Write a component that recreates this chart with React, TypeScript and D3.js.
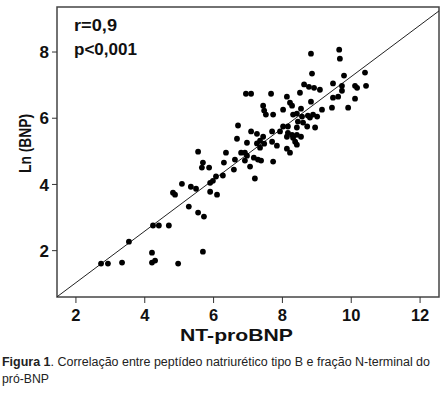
import * as d3 from 'd3';

// NT-proBNP (x) and Ln(BNP) (y)
const ntProBnp = [
  8.83, 9.65, 9.67, 8.86, 10.40, 9.79, 6.94, 7.09, 7.67, 8.13,
  8.63, 8.77, 8.92, 9.09, 9.47, 9.73, 9.73, 10.11, 10.17, 10.43,
  8.51, 8.83, 9.47, 9.62, 10.11, 7.44, 8.22, 8.28, 8.02, 8.54,
  9.15, 9.44, 9.91, 7.47, 7.52, 7.73, 8.42, 8.31, 8.57, 8.74,
  8.89, 8.80, 9.01, 8.45, 8.60, 6.71, 7.09, 7.26, 7.70, 8.02,
  8.16, 8.42, 8.72, 8.95, 7.93, 8.16, 8.28, 8.13, 8.31, 8.42,
  8.54, 7.44, 6.68, 6.97, 7.35, 7.47, 7.70, 8.37, 8.42, 7.84,
  8.13, 8.22, 7.35, 6.36, 6.80, 6.91, 6.97, 7.17, 7.29, 7.38,
  6.62, 6.30, 6.91, 7.73, 6.59, 7.06, 7.20, 5.55, 5.69, 5.66,
  5.87, 6.27, 6.07, 5.98, 5.90, 5.08, 5.34, 5.49, 4.82, 4.88,
  5.90, 6.10, 5.28, 5.55, 5.72, 4.24, 4.41, 4.70, 3.54, 4.21,
  5.69, 2.73, 2.93, 3.34, 4.21, 4.30, 4.97, 7.26,
];
const lnBnp = [
  7.95, 8.07, 7.80, 7.35, 7.38, 7.29, 6.74, 6.74, 6.74, 6.65,
  7.02, 6.95, 6.92, 6.86, 7.05, 6.98, 6.83, 6.98, 6.92, 6.98,
  6.77, 6.50, 6.62, 6.65, 6.59, 6.38, 6.47, 6.38, 6.26, 6.29,
  6.26, 6.32, 6.32, 6.23, 6.11, 6.11, 6.14, 6.11, 6.05, 6.08,
  6.11, 6.02, 6.05, 5.90, 5.87, 5.78, 5.60, 5.53, 5.60, 5.75,
  5.75, 5.72, 5.75, 5.72, 5.60, 5.56, 5.50, 5.44, 5.41, 5.50,
  5.44, 5.44, 5.38, 5.26, 5.32, 5.23, 5.29, 5.29, 5.20, 5.17,
  5.08, 4.96, 5.11, 4.96, 4.96, 4.96, 4.87, 4.81, 4.75, 4.72,
  4.75, 4.66, 4.72, 4.69, 4.45, 4.54, 4.18, 4.99, 4.66, 4.51,
  4.51, 4.27, 4.24, 4.11, 4.05, 4.02, 3.93, 3.87, 3.75, 3.69,
  3.78, 3.69, 3.33, 3.15, 3.03, 2.76, 2.76, 2.76, 2.27, 1.94,
  1.97, 1.61, 1.61, 1.64, 1.64, 1.70, 1.61, 5.24,
];

const xTicks = [2, 4, 6, 8, 10, 12];
const yTicks = [2, 4, 6, 8];

// fitted line
const slope = 0.778;
const intercept = -0.522;

const statsLines = ['r=0,9', 'p<0,001'];
const xTitle = 'NT-proBNP';
const yTitle = 'Ln (BNP)';

const font = '"Liberation Sans", Arial, sans-serif';

export default function App() {
  const width = 446;
  const height = 393;
  const box = { left: 57, right: 439, top: 7, bottom: 297 };

  const x = d3.scaleLinear().domain([1.45, 12.55]).range([box.left, box.right]);
  const y = d3.scaleLinear().domain([0.6, 9.36]).range([box.bottom, box.top]);

  const points = ntProBnp.map((v, i) => [v, lnBnp[i]] as [number, number]);

  const [x0, x1] = x.domain();
  const fitLine = d3.line<number>()
    .x(d => x(d))
    .y(d => y(intercept + slope * d))([x0, x1]);

  return (
    <svg
      width={width}
      height={height}
      style={{ position: 'absolute', left: 0, top: 0, background: '#fff' }}
      fontFamily={font}
    >
      <defs>
        <clipPath id="plot-clip">
          <rect x={box.left} y={box.top} width={box.right - box.left} height={box.bottom - box.top} />
        </clipPath>
      </defs>

      {/* frame */}
      <rect
        x={box.left}
        y={box.top}
        width={box.right - box.left}
        height={box.bottom - box.top}
        fill="none"
        stroke="#444"
        strokeWidth={1.5}
      />

      {/* y ticks */}
      {yTicks.map(t => (
        <g key={'y' + t}>
          <line x1={box.left - 5} x2={box.left} y1={y(t)} y2={y(t)} stroke="#333" strokeWidth={1} />
          <text x={box.left - 8} y={y(t)} dy="0.36em" textAnchor="end" fontSize={17} fontWeight="bold" fill="#111">
            {t}
          </text>
        </g>
      ))}

      {/* x ticks */}
      {xTicks.map(t => (
        <g key={'x' + t}>
          <line x1={x(t)} x2={x(t)} y1={box.bottom} y2={box.bottom + 6} stroke="#333" strokeWidth={1} />
          <text x={x(t)} y={321} textAnchor="middle" fontSize={16.5} fontWeight="bold" fill="#111">
            {t}
          </text>
        </g>
      ))}

      {/* regression line */}
      <path d={fitLine ?? ''} fill="none" stroke="#222" strokeWidth={1} clipPath="url(#plot-clip)" />

      {/* points */}
      {points.map((p, i) => (
        <circle key={i} cx={x(p[0])} cy={y(p[1])} r={2.9} fill="#000" />
      ))}

      {/* stats */}
      <text x={74} y={31} fontSize={16} fontWeight="bold" fill="#111" textLength={43} lengthAdjust="spacingAndGlyphs">
        {statsLines[0]}
      </text>
      <text x={74} y={55} fontSize={16} fontWeight="bold" fill="#111" textLength={63} lengthAdjust="spacingAndGlyphs">
        {statsLines[1]}
      </text>

      {/* axis titles */}
      <text x={180} y={341} fontSize={17} fontWeight="bold" fill="#111" textLength={113} lengthAdjust="spacingAndGlyphs">
        {xTitle}
      </text>
      <text
        transform={`translate(31,${173}) rotate(-90)`}
        fontSize={17}
        fontWeight="bold"
        fill="#111"
        textLength={59}
        lengthAdjust="spacingAndGlyphs"
      >
        {yTitle}
      </text>

      {/* caption */}
      <text x={2} y={366} fontSize={12.5} fill="#222" textLength={428} lengthAdjust="spacingAndGlyphs">
        <tspan fontWeight="bold">Figura 1</tspan>
        <tspan>. Correlação entre peptídeo natriurético tipo B e fração N-terminal do</tspan>
      </text>
      <text x={2} y={383} fontSize={12.5} fill="#222" textLength={47} lengthAdjust="spacingAndGlyphs">
        pró-BNP
      </text>
    </svg>
  );
}
